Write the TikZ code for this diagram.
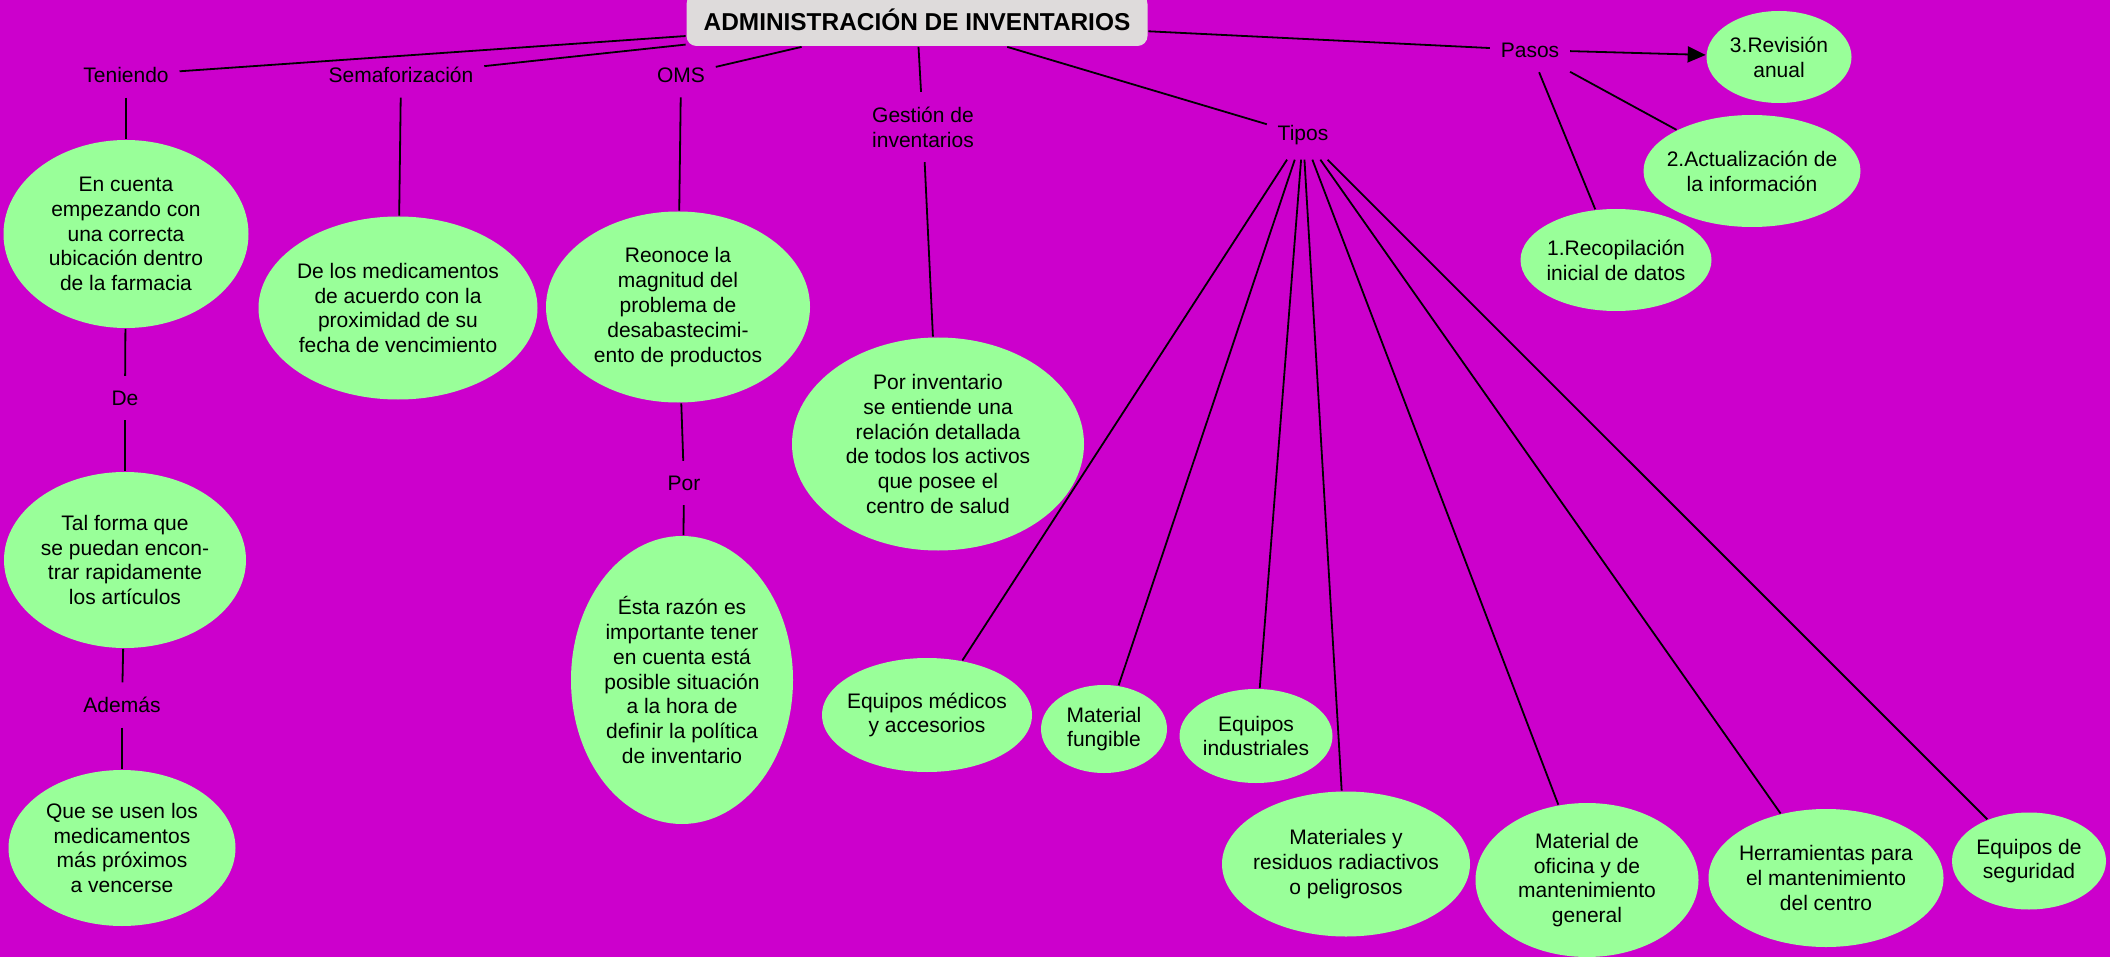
\documentclass[tikz,border=0pt]{standalone}
\usepackage{fontspec}
\setmainfont{Liberation Sans}
\usetikzlibrary{shapes.geometric,positioning,arrows.meta}
\definecolor{mapbg}{HTML}{CC00CC}
\definecolor{mint}{HTML}{99FF99}
\definecolor{titlegray}{HTML}{DEDBDB}
\tikzset{
  concept/.style 2 args={ellipse, fill=mint, align=center, inner xsep=-5pt, inner ysep=-3pt,
    minimum width=#1, minimum height=#2, font=\fontsize{10.5}{12.4}\selectfont},
  linkword/.style={align=center, inner xsep=5pt, inner ysep=7pt,
    font=\fontsize{10.5}{12.4}\selectfont},
}

\begin{document}
\begin{tikzpicture}[x=0.5pt,y=-0.5pt,line width=0.9pt]
  \path[use as bounding box] (0,0) rectangle (2110,957);
  \clip (0,0) rectangle (2110,957);
  \fill[mapbg] (0,0) rectangle (2110,957);

  \node[fill=titlegray, rounded corners=5pt, minimum width=230.5pt, minimum height=26pt,
        font=\fontsize{12.2}{14}\selectfont\bfseries] (admin) at (917,20) {ADMINISTRACIÓN DE INVENTARIOS};

  % palabras de enlace
  \node[linkword] (teniendo) at (126,75) {Teniendo};
  \node[linkword] (semaf) at (401,75) {Semaforización};
  \node[linkword] (oms) at (681,75) {OMS};
  \node[linkword] (gestion) at (923,127) {Gestión de\\inventarios};
  \node[linkword] (tipos) at (1303,135) {Tipos};
  \node[linkword] (pasos) at (1530,50) {Pasos};
  \node[linkword] (de) at (125,398) {De};
  \node[linkword] (ademas) at (122,705) {Además};
  \node[linkword] (por) at (684,483) {Por};

  % conceptos
  \node[concept={122.5pt}{94pt}] (encuenta) at (126,234) {En cuenta\\empezando con\\una correcta\\ubicación dentro\\de la farmacia};
  \node[concept={121pt}{88pt}] (talforma) at (125,560) {Tal forma que\\se puedan encon-\\trar rapidamente\\los artículos};
  \node[concept={113.5pt}{78pt}] (queseusen) at (122,848) {Que se usen los\\medicamentos\\más próximos\\a vencerse};
  \node[concept={139.5pt}{91.5pt}] (medicam) at (398,308) {De los medicamentos\\de acuerdo con la\\proximidad de su\\fecha de vencimiento};
  \node[concept={132pt}{95.5pt}] (reonoce) at (678,307) {Reonoce la\\magnitud del\\problema de\\desabastecimi-\\ento de productos};
  \node[concept={111pt}{144pt}] (razon) at (682,680) {Ésta razón es\\importante tener\\en cuenta está\\posible situación\\a la hora de\\definir la política\\de inventario};
  \node[concept={146pt}{106.5pt}] (porinv) at (938,444) {Por inventario\\se entiende una\\relación detallada\\de todos los activos\\que posee el\\centro de salud};

  \node[concept={105pt}{57pt}] (medicos) at (927,715) {Equipos médicos\\y accesorios};
  \node[concept={63pt}{44pt}] (fungible) at (1104,729) {Material\\fungible};
  \node[concept={76.5pt}{47pt}] (industr) at (1256,736) {Equipos\\industriales};
  \node[concept={124pt}{72.5pt}] (radiact) at (1346,864) {Materiales y\\residuos radiactivos\\o peligrosos};
  \node[concept={111.5pt}{77pt}] (oficina) at (1587,880) {Material de\\oficina y de\\mantenimiento\\general};
  \node[concept={117.5pt}{69pt}] (herram) at (1826,878) {Herramientas para\\el mantenimiento\\del centro};
  \node[concept={77pt}{48.5pt}] (segur) at (2029,861) {Equipos de\\seguridad};

  \node[concept={72.5pt}{46pt}] (revision) at (1779,57) {3.Revisión\\anual};
  \node[concept={108.5pt}{56pt}] (actualiz) at (1752,171) {2.Actualización de\\la información};
  \node[concept={95.5pt}{51pt}] (recopil) at (1616,260) {1.Recopilación\\inicial de datos};

  \path
    (admin) edge (teniendo) edge (semaf) edge (oms)
            edge (gestion) edge (tipos) edge (pasos)
    (teniendo) edge (encuenta)
    (encuenta) edge (de)
    (de) edge (talforma)
    (talforma) edge (ademas)
    (ademas) edge (queseusen)
    (semaf) edge (medicam)
    (oms) edge (reonoce)
    (reonoce) edge (por)
    (por) edge (razon)
    (gestion) edge (porinv)
    (tipos) edge (medicos) edge (fungible) edge (industr) edge (radiact)
            edge (oficina) edge (herram) edge (segur)
    (pasos) edge[-{Triangle[length=9pt,width=8pt]}] (revision)
            edge (actualiz) edge (recopil);
\end{tikzpicture}
\end{document}
